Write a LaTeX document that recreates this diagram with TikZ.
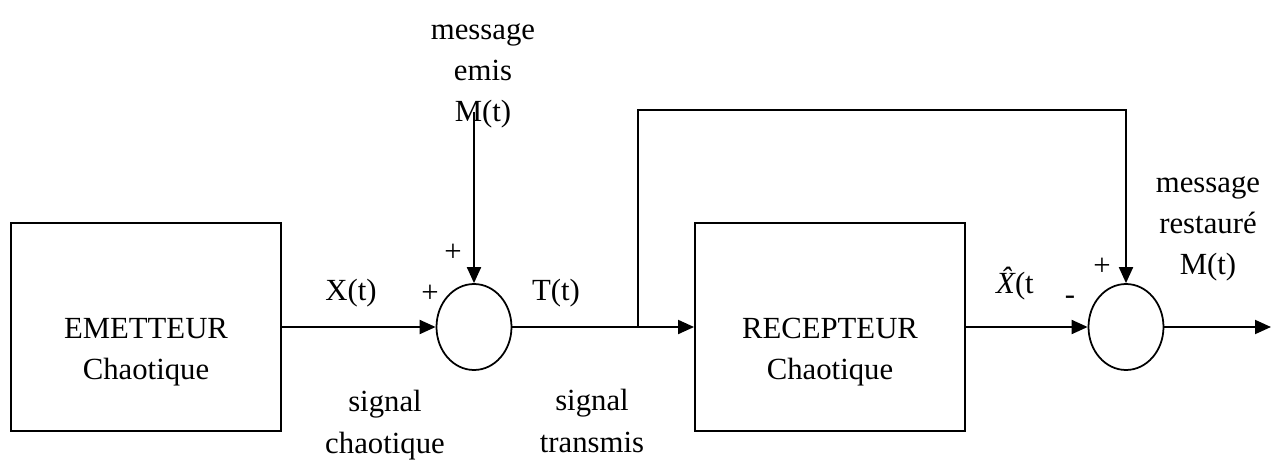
\documentclass[tikz,border=0pt]{standalone}
\usepackage{fontspec}
\setmainfont{Liberation Serif}
\usepackage{tikz}
\usetikzlibrary{arrows.meta,shapes.geometric}

\begin{document}
\begin{tikzpicture}[x=0.02cm,y=-0.02cm,
  font=\fontsize{17.5}{23.5}\selectfont,
  bloc/.style={draw,line width=1.1pt,minimum width=5.4cm,minimum height=4.16cm,inner sep=0pt},
  somme/.style={draw,ellipse,line width=1pt,minimum width=1.5cm,minimum height=1.72cm,inner sep=0pt},
  txt/.style={align=center,inner sep=0pt},
  arr/.style={-{Triangle[length=3.2mm,width=2.8mm]},line width=1.1pt}]
  \useasboundingbox (0,0) rectangle (1286,460);
  \node[bloc] (emet) at (146,327) {};
  \node[txt] (emettxt) at (146,352) {EMETTEUR\\Chaotique};
  \node[bloc] (recep) at (830,327) {};
  \node[txt] (receptxt) at (830,352) {RECEPTEUR\\Chaotique};
  \node[somme] (sum1) at (474,327) {};
  \node[somme] (sum2) at (1126,327) {};
  \coordinate (msrc) at (474,112);
  \coordinate (bra) at (638,327);
  \coordinate (fb) at (638,110);
  \coordinate (out) at (1271,327);
  \draw[arr] (emet) -- (sum1);
  \draw[arr] (msrc) -- (sum1.north);
  \draw[arr] (sum1) -- (recep);
  \draw[arr] (bra) -- (fb) -| (sum2.north);
  \draw[arr] (recep) -- (sum2);
  \draw[arr] (sum2) -- (out);
  \node[txt] (memis) at (483,76) {message\\emis\\M(t)};
  \node[txt] (mrest) at (1208,229) {message\\restauré\\M(t)};
  \node[txt] (xt) at (351,293) {X(t)};
  \node[txt] (tt) at (556,293) {T(t)};
  \node[txt] (xh) at (1015,284) {{\itshape\^X}(t};
  \node[txt] (p1) at (430,294) {+};
  \node[txt] (p2) at (453,253) {+};
  \node[txt] (p3) at (1102,267) {+};
  \node[txt] (m1) at (1070,300) {-};
  \node[txt] (sch) at (385,425) {signal\\chaotique};
  \node[txt] (str) at (592,421) {signal\\transmis};
\end{tikzpicture}
\end{document}
